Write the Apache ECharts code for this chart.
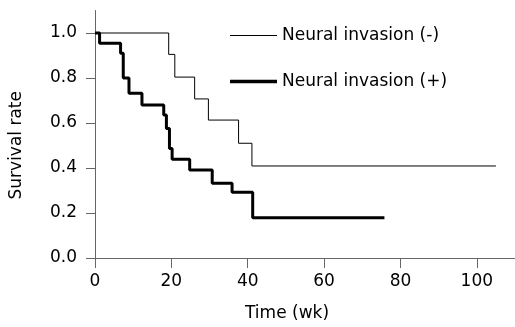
<!DOCTYPE html>
<html>
<head>
<meta charset="utf-8">
<script src="https://cdn.jsdelivr.net/npm/echarts@6/dist/echarts.min.js"></script>
<style>
  html, body {margin: 0; padding: 0; background: #fff;}
  #chart {width: 515px; height: 327px;}
</style>
</head>
<body>
<div id="chart"></div>
<script>
// Kaplan-Meier steps: [week, survival]
const negName = 'Neural invasion (-)';
const posName = 'Neural invasion (+)';
const negSteps = [
  [0, 1], [19.3, 0.905], [20.9, 0.804], [26.1, 0.707], [29.7, 0.613],
  [37.6, 0.51], [41.1, 0.409], [105, 0.409]
];
const posSteps = [
  [0, 1], [1.2, 0.954], [6.7, 0.91], [7.4, 0.80], [8.9, 0.732], [12.3, 0.68],
  [18.0, 0.636], [18.7, 0.576], [19.5, 0.487], [20.2, 0.439], [24.8, 0.391],
  [30.7, 0.332], [35.9, 0.292], [41.3, 0.179], [75.8, 0.179]
];
const xTicks = [0, 20, 40, 60, 80, 100];
const yTicks = [0, 0.2, 0.4, 0.6, 0.8, 1.0];

const font = 'DejaVu Sans';
const axisGray = '#666';

const chart = echarts.init(document.getElementById('chart'));
chart.setOption({
  animation: false,
  textStyle: {fontFamily: font},
  grid: {left: 95, right: -1, top: 10.5, bottom: 69},
  legend: {
    orient: 'vertical',
    left: 225,
    top: 22,
    padding: 5,
    itemWidth: 47,
    itemHeight: 14,
    itemGap: 29,
    textStyle: {fontFamily: font, fontSize: 17, color: '#000'},
    data: [
      {name: negName, icon: 'path://M0,0H40V1H0Z'},
      {name: posName, icon: 'path://M0,0H40V3H0Z'}
    ]
  },
  xAxis: {
    type: 'value',
    min: 0,
    max: 110,
    name: 'Time (wk)',
    nameLocation: 'middle',
    nameGap: 47,
    nameTextStyle: {fontSize: 17, color: '#000', padding: [0, 36, 0, 0]},
    splitLine: {show: false},
    axisLine: {onZero: false, lineStyle: {color: axisGray, width: 1}},
    axisTick: {length: 10, lineStyle: {color: axisGray}, customValues: xTicks},
    axisLabel: {fontSize: 17, color: '#000', margin: 15, customValues: xTicks}
  },
  yAxis: {
    type: 'value',
    min: 0,
    max: 1.1,
    name: 'Survival rate',
    nameLocation: 'middle',
    nameGap: 70,
    nameTextStyle: {fontSize: 17, color: '#000', padding: [0, 22, 0, 0]},
    splitLine: {show: false},
    axisLine: {show: true, lineStyle: {color: axisGray, width: 1}},
    axisTick: {show: true, length: 9, lineStyle: {color: axisGray}, customValues: yTicks},
    axisLabel: {
      fontSize: 17, color: '#000', margin: 18, customValues: yTicks,
      formatter: v => v.toFixed(1)
    }
  },
  series: [
    {
      name: negName,
      type: 'line',
      step: 'end',
      symbol: 'none',
      color: '#000',
      lineStyle: {width: 1, color: '#000'},
      data: negSteps
    },
    {
      name: posName,
      type: 'line',
      step: 'end',
      symbol: 'none',
      color: '#000',
      lineStyle: {width: 3, color: '#000'},
      data: posSteps
    }
  ]
});
</script>
</body>
</html>
